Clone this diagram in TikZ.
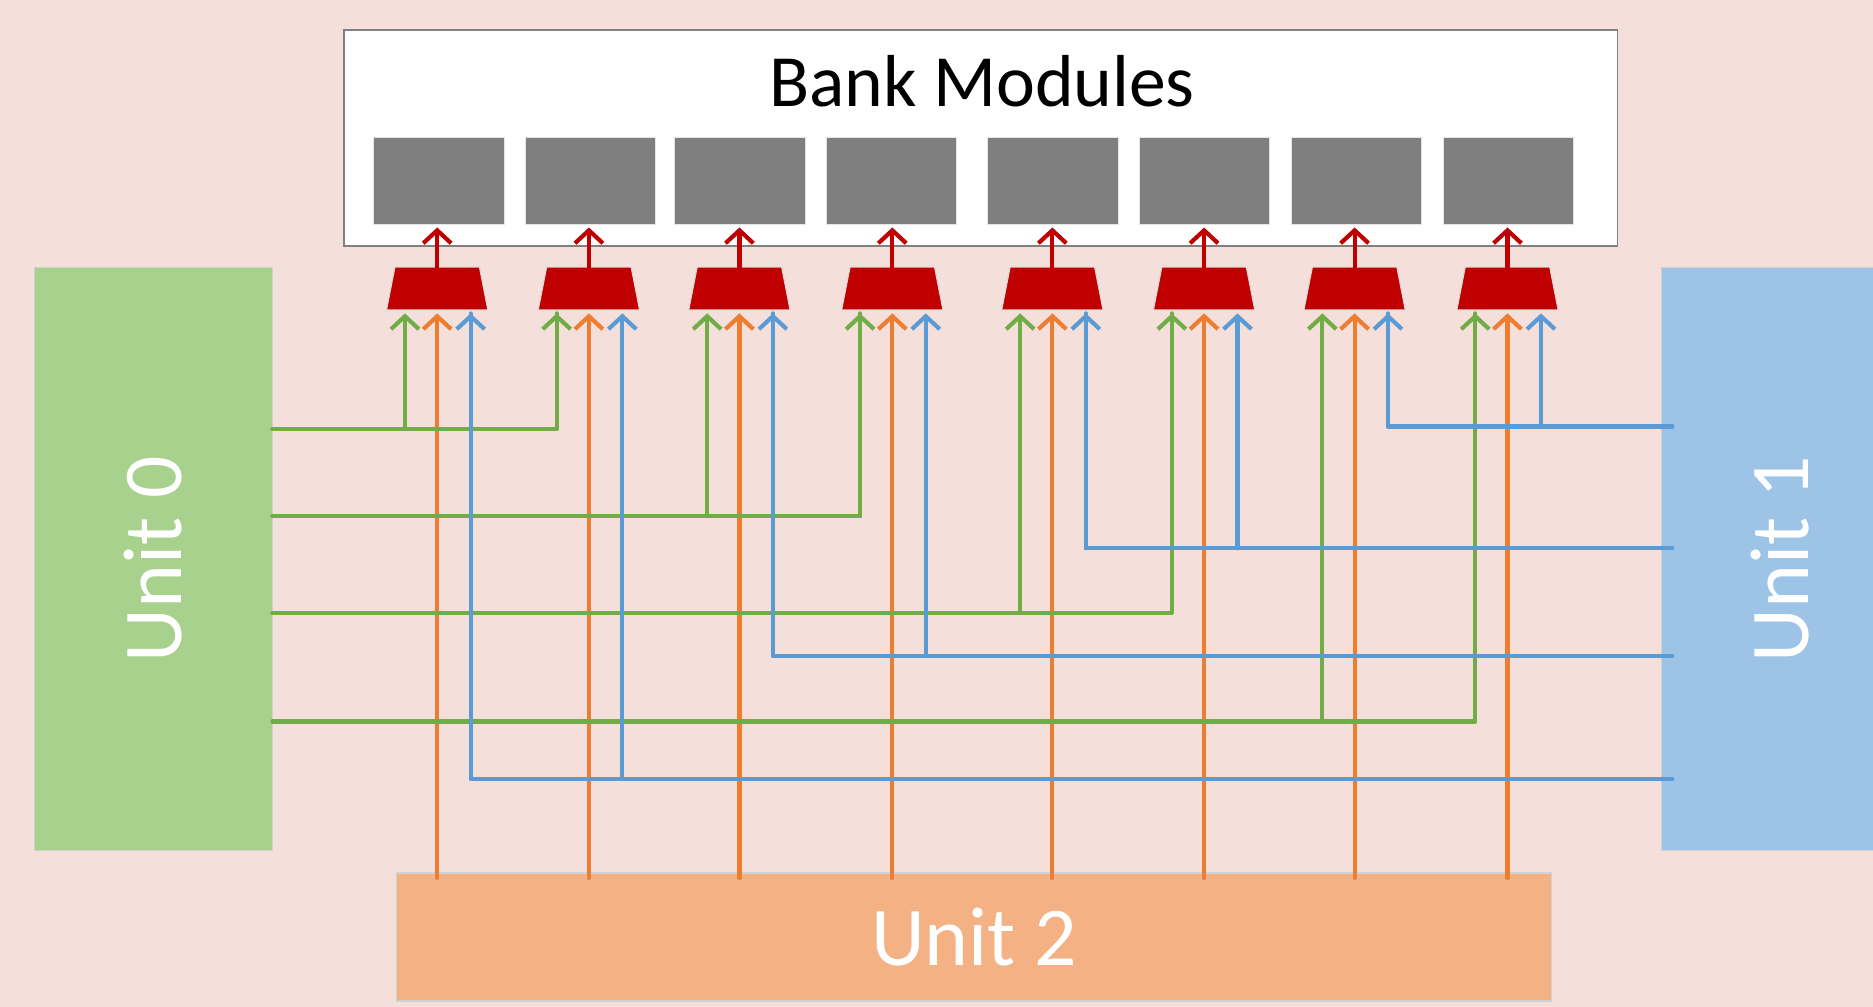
\documentclass[tikz,border=0pt]{standalone}
\usepackage{fontspec}
\setmainfont{Carlito}
\usetikzlibrary{arrows.meta,calc}
\definecolor{bg}{HTML}{F5DFDA}
\definecolor{ugreen}{HTML}{A9D18E}
\definecolor{ublue}{HTML}{9DC3E6}
\definecolor{uorange}{HTML}{F4B183}
\definecolor{lgreen}{HTML}{70AD47}
\definecolor{lorange}{HTML}{ED7D31}
\definecolor{lblue}{HTML}{5B9BD5}
\definecolor{mred}{HTML}{C00000}
\definecolor{bgray}{HTML}{7F7F7F}
\begin{document}
\begin{tikzpicture}[x=0.6pt,y=-0.6pt,
  wire/.style={line width=2.1pt,line cap=round,line join=round},
  tip/.style={-{Straight Barb[length=6.5pt,width=14pt]}},
  garr/.style={wire,lgreen},
  barr/.style={wire,lblue},
  oarr/.style={wire,lorange,tip},
  rarr/.style={wire,mred,tip},
  unitbox/.style={draw=black!18,line width=0.8pt,inner sep=0pt,text=white,font=\fontsize{42}{50}\selectfont},
  blk/.style={fill=bgray,draw=black!10,line width=0.5pt,minimum width=65.4pt,minimum height=43.8pt,inner sep=0pt},
  muxbox/.style={minimum width=50.4pt,minimum height=21pt,inner sep=0pt},
  muxfill/.style={fill=mred,draw=black!15,line width=0.5pt}
]
\useasboundingbox (0,0) rectangle (1568,843);
\fill[bg] (0,0) rectangle (1568,843);
% bank modules box
\node[draw=black!50,fill=white,line width=0.9pt,minimum width=639.6pt,minimum height=108.6pt,inner sep=0pt] (bank) at (821,115.5) {};
\node[font=\fontsize{37}{44}\selectfont] (banktxt) at (822,68) {Bank Modules};
% units
\node[unitbox,fill=ugreen,minimum width=292.8pt,minimum height=119.4pt,rotate=90] (u0) at (128.5,468) {Unit 0};
\node[unitbox,fill=ublue,minimum width=292.8pt,minimum height=119.4pt,rotate=90] (u1) at (1490.5,468) {Unit 1};
\node[unitbox,fill=uorange,minimum width=580.2pt,minimum height=64.2pt] (u2) at (815.5,784.5) {Unit 2};
% blocks and muxes
\foreach \i/\c in {0/367.5,1/494.5,2/619.5,3/746.5,4/881.5,5/1008.5,6/1135.5,7/1262.5}{
  \node[blk] (b\i) at (\c,151.5) {};
}
\foreach \i/\c in {0/366,1/493,2/619,3/747,4/881,5/1008,6/1134,7/1262}{
  \node[muxbox] (m\i) at (\c,241.5) {};
  \path[muxfill] (m\i.south west) -- (m\i.south east) -- ($(m\i.north east)+(-7,0)$) -- ($(m\i.north west)+(7,0)$) -- cycle;
  \coordinate (g\i) at ($(m\i.south)+(-27,3)$);
  \coordinate (o\i) at ($(m\i.south)+(0,3)$);
  \coordinate (bl\i) at ($(m\i.south)+(28,3)$);
  \coordinate (r\i) at ($(m\i.north |- b\i.south)+(0,2)$);
  \draw[rarr] (m\i.north) -- (r\i);
}
\coordinate (u0e) at (228,0);
\coordinate (u1w) at (1400,0);
\coordinate (u2t) at (0,735);
% orange wires
\foreach \i in {0,...,7}{
  \draw[oarr] (o\i |- u2t) -- (o\i);
}
% green wires
\foreach \a/\b/\y in {0/1/359,2/3/432,4/5/513,6/7/604}{
  \draw[garr] (u0e |- 0,\y) -| (g\b);
  \draw[garr,tip] (g\b |- 0,\y) -- (g\b);
  \draw[garr,tip] (g\a |- 0,\y) -- (g\a);
}
% blue wires
\foreach \a/\b/\y in {6/7/357,4/5/459,2/3/549,0/1/652}{
  \draw[barr] (u1w |- 0,\y) -| (bl\a);
  \draw[barr,tip] (bl\a |- 0,\y) -- (bl\a);
  \draw[barr,tip] (bl\b |- 0,\y) -- (bl\b);
}
\end{tikzpicture}
\end{document}
